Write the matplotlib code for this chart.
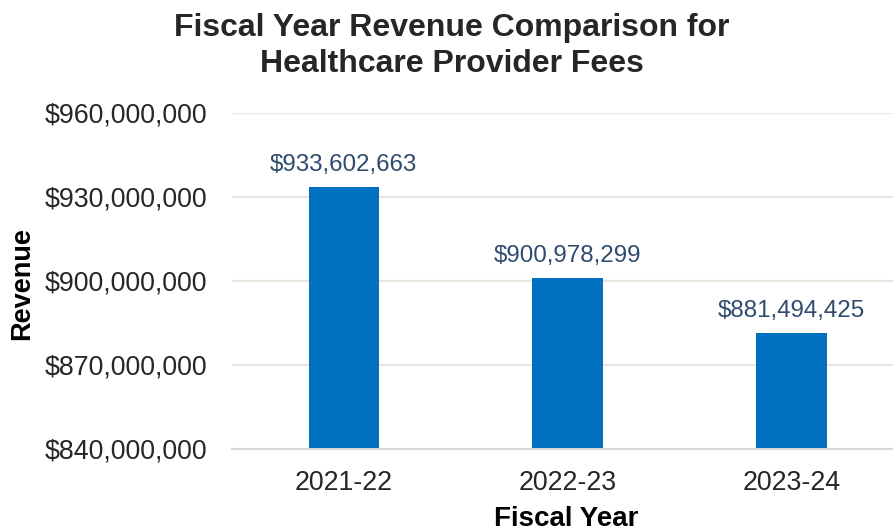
import matplotlib
matplotlib.use("Agg")
import matplotlib.pyplot as plt
from matplotlib.ticker import FuncFormatter

categories = ["2021-22", "2022-23", "2023-24"]
revenue = [933602663, 900978299, 881494425]
yticks = [840000000, 870000000, 900000000, 930000000, 960000000]

plt.rcParams['font.family'] = ['Liberation Sans', 'DejaVu Sans']

fig = plt.figure(figsize=(8.93, 5.31), dpi=100)
ax = fig.add_axes([232/893, 1-449/531, 1-232/893, (449-113)/531])

x = list(range(len(categories)))
ax.bar(x, revenue, width=0.316, color="#0070C0", zorder=3)
for xi, v in zip(x, revenue):
    ax.text(xi, v + 4000000, f"${v:,.0f}", ha="center", va="bottom",
            fontsize=17.4, color="#2F4B6E", zorder=4)

ax.set_ylim(840000000, 960000000)
ax.set_xlim(-0.5, 2.455)
ax.set_yticks(yticks)
ax.yaxis.set_major_formatter(FuncFormatter(lambda v, p: f"${v:,.0f}"))
ax.set_xticks(x)
ax.set_xticklabels(categories)
ax.tick_params(axis="both", length=0, labelsize=19.3, labelcolor="#262626")
ax.tick_params(axis="y", pad=17.5)
ax.tick_params(axis="x", pad=15)
ax.grid(axis="y", color="#EBE7DE", linewidth=1.5, zorder=0)
for s in ["top", "right", "left"]:
    ax.spines[s].set_visible(False)
ax.spines["bottom"].set_color("#D9D9D9")
ax.spines["bottom"].set_linewidth(1.5)
ax.spines["bottom"].set_zorder(5)

fig.text(566/893, 1-519/531, "Fiscal Year", ha="center", va="center",
         fontsize=20, fontweight="bold", color="black")
fig.text(22/893, 1-284/531, "Revenue", rotation=90, ha="center", va="center",
         fontsize=19.5, fontweight="bold", color="black")
fig.text(452/893, 1-46/531, "Fiscal Year Revenue Comparison for\nHealthcare Provider Fees",
         ha="center", va="center", fontsize=23, fontweight="bold", color="#262626",
         linespacing=1.3)

fig.savefig("out.png", dpi=100)
